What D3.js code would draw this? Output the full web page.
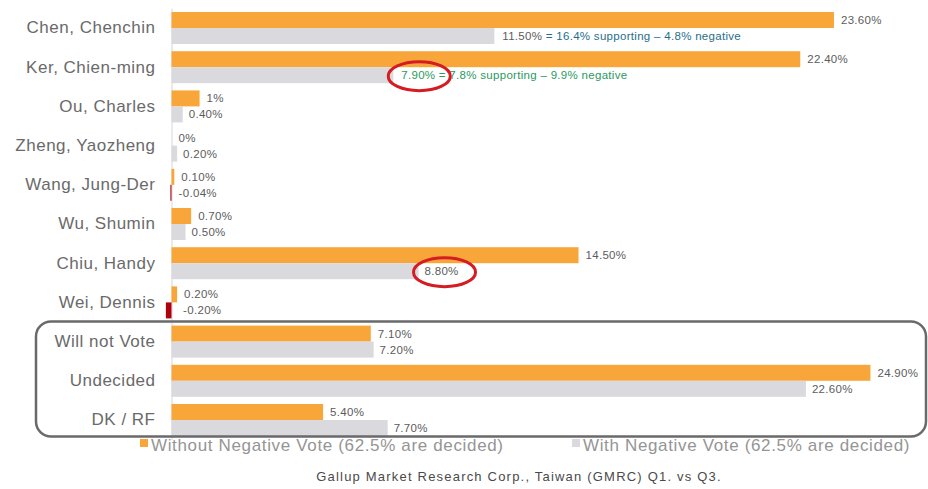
<!DOCTYPE html>
<html>
<head>
<meta charset="utf-8">
<script src="https://cdn.jsdelivr.net/npm/d3@7"></script>
<style>
  body { margin: 0; background: #fff; }
  svg { display: block; font-family: "Liberation Sans", Arial, sans-serif; }
</style>
</head>
<body>
<div id="chart-area"></div>
<script>
// Data
const categories = ["Chen, Chenchin", "Ker, Chien-ming", "Ou, Charles", "Zheng, Yaozheng",
    "Wang, Jung-Der", "Wu, Shumin", "Chiu, Handy", "Wei, Dennis",
    "Will not Vote", "Undecided", "DK / RF"];
const withoutNegative = [23.6, 22.4, 1, 0, 0.1, 0.7, 14.5, 0.2, 7.1, 24.9, 5.4];
const withNegative = [11.5, 7.9, 0.4, 0.2, -0.04, 0.5, 8.8, -0.2, 7.2, 22.6, 7.7];
const withoutLabels = ["23.60%", "22.40%", "1%", "0%", "0.10%", "0.70%", "14.50%", "0.20%", "7.10%", "24.90%", "5.40%"];
const withLabels = ["11.50%", "7.90%", "0.40%", "0.20%", "-0.04%", "0.50%", "8.80%", "-0.20%", "7.20%", "22.60%", "7.70%"];
const notes = { "Chen, Chenchin": "= 16.4% supporting – 4.8% negative",
                "Ker, Chien-ming": "= 7.8% supporting – 9.9% negative" };
const circled = ["Ker, Chien-ming", "Chiu, Handy"];
const legendLabels = ["Without Negative Vote (62.5% are decided)", "With Negative Vote (62.5% are decided)"];
const source = "Gallup Market Research Corp., Taiwan (GMRC)  Q1. vs Q3.";

const width = 928, height = 489;
const orange = "#f8a63a", grey = "#d9d9de", red = "#b0000e";

const svg = d3.select("#chart-area").append("svg")
    .attr("width", width)
    .attr("height", height);

// Escalas
const x = d3.scaleLinear().domain([0, 25]).range([171.5, 171.5 + 25 * 28.07]);
const y = d3.scaleBand()
    .domain(categories)
    .range([8.4, 439.6])
    .paddingInner(0.184)
    .paddingOuter(0.092);
const bh = y.bandwidth() / 2;

// Eje de categorías
const axis = svg.append("g")
    .attr("transform", `translate(${x(0)},0)`)
    .call(d3.axisLeft(y).tickSize(0).tickPadding(16));
axis.select(".domain").attr("stroke", "#d6d6d6").attr("stroke-width", 1);
axis.selectAll("text")
    .attr("font-size", "17px")
    .attr("letter-spacing", "0.5px")
    .attr("fill", "#6a6a6a")
    .attr("font-family", "Liberation Sans, Arial, sans-serif");

const rows = categories.map((c, i) => ({
    cat: c, a: withoutNegative[i], b: withNegative[i], la: withoutLabels[i], lb: withLabels[i]
}));

// Barras naranjas
svg.append("g").selectAll("rect").data(rows).join("rect")
    .attr("x", d => x(0))
    .attr("y", d => y(d.cat))
    .attr("width", d => x(d.a) - x(0))
    .attr("height", bh)
    .attr("fill", orange);

// Barras grises (rojas si son negativas)
svg.append("g").selectAll("rect").data(rows).join("rect")
    .attr("x", d => x(Math.min(0, d.b)))
    .attr("y", d => y(d.cat) + bh)
    .attr("width", d => Math.abs(x(d.b) - x(0)))
    .attr("height", bh)
    .attr("fill", d => d.b < 0 ? red : grey);

// Etiquetas de valores
svg.append("g").selectAll("text").data(rows).join("text")
    .attr("x", d => x(d.a) + 7)
    .attr("y", d => y(d.cat) + bh / 2)
    .attr("dy", "0.35em")
    .attr("font-size", "11.5px")
    .attr("letter-spacing", "0.3px")
    .attr("fill", "#5c5c5c")
    .text(d => d.la);

const lb = svg.append("g").selectAll("text").data(rows).join("text")
    .attr("x", d => x(Math.abs(d.b)) + (notes[d.cat] ? 8 : 6))
    .attr("y", d => y(d.cat) + bh * 1.5)
    .attr("dy", "0.35em")
    .attr("font-size", "11.5px")
    .attr("letter-spacing", "0.3px")
    .attr("fill", d => d.cat === "Ker, Chien-ming" ? "#2a9a5e" : "#5c5c5c");
lb.append("tspan").text(d => d.lb);
lb.filter(d => notes[d.cat]).append("tspan")
    .attr("fill", d => d.cat === "Ker, Chien-ming" ? "#2a9a5e" : "#1f6e8c")
    .text(d => " " + notes[d.cat]);

// Elipses rojas
svg.append("g").selectAll("ellipse").data(rows.filter(d => circled.includes(d.cat))).join("ellipse")
    .attr("cx", d => x(Math.abs(d.b)) + 26)
    .attr("cy", d => y(d.cat) + bh * 1.5 + 1)
    .attr("rx", 31)
    .attr("ry", 14.5)
    .attr("fill", "none")
    .attr("stroke", "#d41c22")
    .attr("stroke-width", 3);

// Leyenda
const legend = svg.append("g");
const legendX = [140, 572];
legendLabels.forEach((t, i) => {
    legend.append("rect")
        .attr("x", legendX[i]).attr("y", 439)
        .attr("width", 8).attr("height", 8)
        .attr("fill", i === 0 ? orange : grey);
    legend.append("text")
        .attr("x", legendX[i] + 11).attr("y", 451)
        .attr("font-size", "17px")
        .attr("letter-spacing", "0.65px")
        .attr("fill", "#959595")
        .text(t);
});

// Recuadro redondeado
svg.append("rect")
    .attr("x", 36).attr("y", 321.5)
    .attr("width", 890).attr("height", 115)
    .attr("rx", 15).attr("ry", 15)
    .attr("fill", "none")
    .attr("stroke", "#6a6a6a")
    .attr("stroke-width", 2.5);

// Fuente
svg.append("text")
    .attr("x", 519).attr("y", 481)
    .attr("text-anchor", "middle")
    .attr("font-size", "13px")
    .attr("letter-spacing", "1.2px")
    .attr("fill", "#4a4a4a")
    .text(source);
</script>
</body>
</html>
